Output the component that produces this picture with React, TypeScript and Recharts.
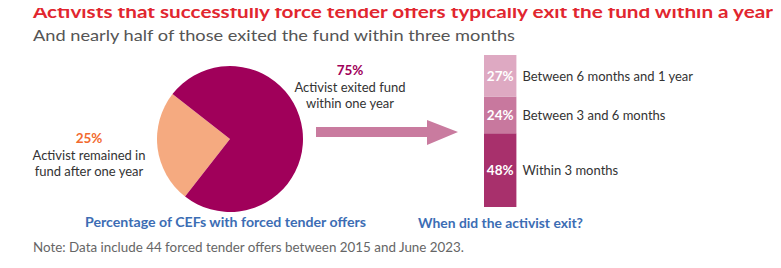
import { PieChart, Pie, Cell, BarChart, Bar, XAxis, YAxis, LabelList } from "recharts";

// Share of CEFs with forced tender offers, by whether the activist exited within a year
const pieNames = ["Activist remained in fund after one year", "Activist exited fund within one year"];
const pieValues = [25, 75];
const pieColors = ["#F5AA80", "#A0005A"];

// Timing of the exit among activists that left, bottom of the stack first
const exitCategories = ["Within 3 months", "Between 3 and 6 months", "Between 6 months and 1 year"];
const exitValues = [48, 24, 27];
const exitColors = ["#A8306C", "#C8789E", "#DEA9C2"];

const pieData = pieNames.map((name, i) => ({ name, value: pieValues[i] }));
const barData = [
  exitCategories.reduce<Record<string, number | string>>(
    (row, _c, i) => {
      row["s" + i] = exitValues[i];
      return row;
    },
    { name: "exit" }
  ),
];

const FONT = "Lato, 'Open Sans', sans-serif";
const DARK = "#333333";

function SegmentLabel(props: any, category: string) {
  const { x, y, width, height, value } = props;
  const cy = y + height / 2;
  return (
    <g>
      <text
        x={x + width / 2}
        y={cy}
        textAnchor="middle"
        dominantBaseline="central"
        fill="#ffffff"
        fontWeight={700}
        fontSize={13.5}
        fontFamily={FONT}
      >
        {value}%
      </text>
      <text
        x={x + width + 6}
        y={cy}
        dominantBaseline="central"
        fill={DARK}
        fontSize={13}
        fontFamily={FONT}
      >
        {category}
      </text>
    </g>
  );
}

export default function App() {
  return (
    <div
      style={{
        position: "relative",
        width: 781,
        height: 268,
        margin: -8,
        background: "#ffffff",
        overflow: "hidden",
        fontFamily: FONT,
      }}
    >
      <svg width={781} height={268} style={{ position: "absolute", left: 0, top: 0 }}>
        <text x={33} y={18} fill="#E1262F" fontWeight={700} fontSize={17.5} textLength={740} lengthAdjust="spacingAndGlyphs">
          Activists that successfully force tender offers typically exit the fund within a year
        </text>
        <text x={33} y={41} fill="#555555" fontSize={16} textLength={482} lengthAdjust="spacingAndGlyphs">
          And nearly half of those exited the fund within three months
        </text>

        {/* pie annotations */}
        <text x={89} y={143} textAnchor="middle" fill="#F26A2E" fontWeight={700} fontSize={13.5}>
          {pieValues[0]}%
        </text>
        <text x={89} y={160} textAnchor="middle" fill={DARK} fontSize={13}>
          Activist remained in
        </text>
        <text x={89} y={176} textAnchor="middle" fill={DARK} fontSize={13}>
          fund after one year
        </text>
        <text x={350} y={75} textAnchor="middle" fill="#A0005A" fontWeight={700} fontSize={13.5}>
          {pieValues[1]}%
        </text>
        <text x={350} y={92} textAnchor="middle" fill={DARK} fontSize={13}>
          Activist exited fund
        </text>
        <text x={350} y={108} textAnchor="middle" fill={DARK} fontSize={13}>
          within one year
        </text>

        {/* arrow from pie to breakdown */}
        <polygon points="316,127 427,127 427,120 458,132 427,145 427,137 316,137" fill="#C97B9F" />

        <text x={85} y={227} fill="#3C6DB4" fontWeight={700} fontSize={13} textLength={281} lengthAdjust="spacingAndGlyphs">
          Percentage of CEFs with forced tender offers
        </text>
        <text x={418} y={228} fill="#3C6DB4" fontWeight={700} fontSize={13} textLength={165} lengthAdjust="spacingAndGlyphs">
          When did the activist exit?
        </text>
        <text x={33} y={252} fill="#666666" fontSize={12.5} textLength={431} lengthAdjust="spacingAndGlyphs">
          Note: Data include 44 forced tender offers between 2015 and June 2023.
        </text>
      </svg>

      <div style={{ position: "absolute", left: 145, top: 54 }}>
        <PieChart width={160} height={160}>
          <Pie
            data={pieData}
            dataKey="value"
            cx={80}
            cy={80}
            outerRadius={73}
            startAngle={142}
            endAngle={502}
            stroke="none"
            isAnimationActive={false}
          >
            {pieData.map((d, i) => (
              <Cell key={d.name} fill={pieColors[i]} />
            ))}
          </Pie>
        </PieChart>
      </div>

      <div style={{ position: "absolute", left: 470, top: 45 }}>
        <BarChart
          width={311}
          height={170}
          data={barData}
          margin={{ top: 10, bottom: 8, left: 12, right: 263 }}
        >
          <XAxis dataKey="name" hide />
          <YAxis hide domain={[0, 99]} />
          {exitCategories.map((c, i) => (
            <Bar
              key={c}
              dataKey={"s" + i}
              stackId="exit"
              fill={exitColors[i]}
              barSize={36}
              isAnimationActive={false}
            >
              <LabelList dataKey={"s" + i} content={(p: any) => SegmentLabel(p, c)} />
            </Bar>
          ))}
        </BarChart>
      </div>
    </div>
  );
}
